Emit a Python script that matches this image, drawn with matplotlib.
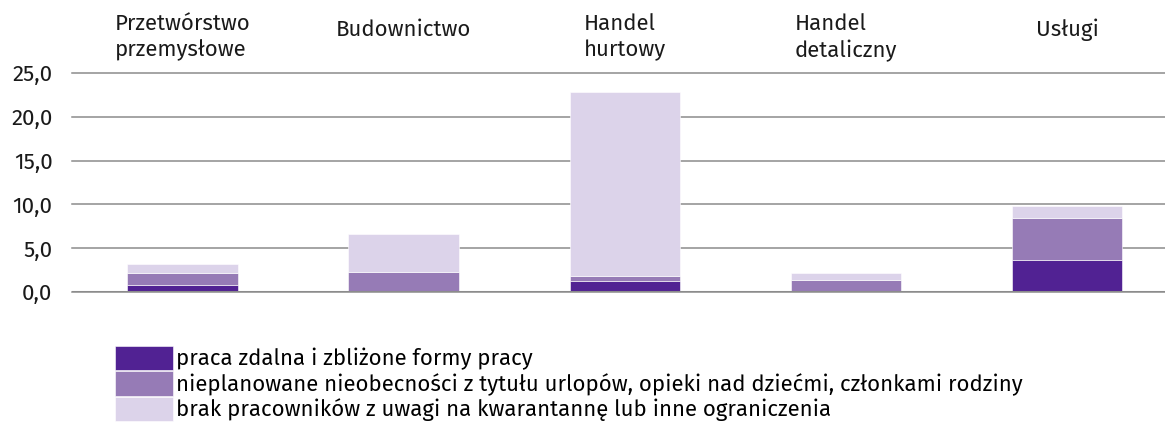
import matplotlib
matplotlib.use("Agg")
import matplotlib.pyplot as plt
from matplotlib.ticker import FuncFormatter
from matplotlib.transforms import blended_transform_factory
import numpy as np

plt.rcParams['font.family'] = ['Fira Sans', 'Roboto', 'DejaVu Sans']

categories = ["Przetwórstwo\nprzemysłowe", "Budownictwo", "Handel\nhurtowy",
              "Handel\ndetaliczny", "Usługi"]
remote = [0.8, 0.0, 1.3, 0.0, 3.7]
absence = [1.4, 2.3, 0.5, 1.4, 4.8]
shortage = [1.0, 4.3, 21.0, 0.8, 1.3]
labels = [
    "praca zdalna i zbliżone formy pracy",
    "nieplanowane nieobecności z tytułu urlopów, opieki nad dziećmi, członkami rodziny",
    "brak pracowników z uwagi na kwarantannę lub inne ograniczenia",
]
colors = ["#512293", "#967bb6", "#dcd3ea"]

W, H = 1165, 434
fig = plt.figure(figsize=(W / 100, H / 100), dpi=100)
ax = fig.add_axes([72 / W, 1 - 292 / H, 1 - 72 / W, (292 - 73) / H])

x = np.arange(len(categories))
bottom = np.zeros(len(categories))
handles = []
for vals, col, lab in zip([remote, absence, shortage], colors, labels):
    b = ax.bar(x, vals, width=0.5, bottom=bottom, color=col, label=lab,
               edgecolor="white", linewidth=0.4, zorder=3)
    handles.append(b)
    bottom += np.array(vals)

ax.set_xlim(-0.5, 4.443)
ax.set_ylim(0, 25)
ax.set_yticks([0, 5, 10, 15, 20, 25])
ax.yaxis.set_major_formatter(FuncFormatter(lambda v, p: f"{v:.1f}".replace(".", ",")))
ax.tick_params(axis="y", length=0, pad=14, labelsize=16, colors="#1a1a1a")
ax.set_xticks([])
for s in ax.spines.values():
    s.set_visible(False)
ax.grid(axis="y", color="#8c8c8c", linewidth=1.1, zorder=0)
for gl in ax.get_ygridlines():
    gl.set_clip_on(False)
ax.axhline(0, color="#8c8c8c", linewidth=2.2, zorder=4)

# category names along the top
trans = blended_transform_factory(ax.transData, fig.transFigure)
for xi, name in zip(x, categories):
    if "\n" in name:
        ax.text(xi, 1 - 13 / H, name, transform=trans, ha="center", va="top",
                multialignment="left", fontsize=16, linespacing=1.3, color="#1a1a1a")
    else:
        ax.text(xi, 1 - 36 / H, name, transform=trans, ha="center", va="baseline",
                fontsize=16, color="#1a1a1a")

fig.legend(handles=handles, labels=labels, loc="upper left",
           bbox_to_anchor=(115 / W, 1 - 346 / H), frameon=False, fontsize=16,
           handlelength=2.6, handleheight=1.3, labelspacing=0.05,
           handletextpad=0.15, borderpad=0, borderaxespad=0)

fig.savefig("out.png", dpi=100)
